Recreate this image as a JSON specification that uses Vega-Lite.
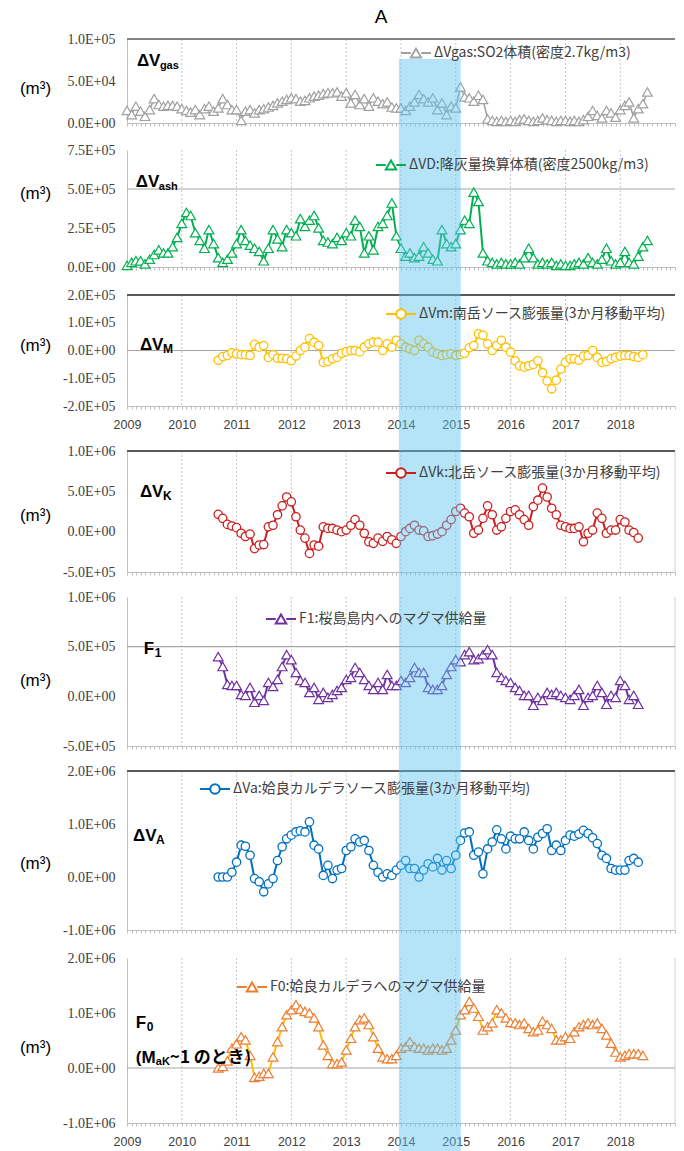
{
"$schema": "https://vega.github.io/schema/vega-lite/v6.json",
"width": 548, "height": 1151,
"autosize": {"type": "none"},
"padding": {"left": 127, "top": 0, "right": 9, "bottom": 0},
"background": "white",
"title": {"text": "A", "anchor": "start", "frame": "group", "align": "center", "baseline": "middle", "dx": 254, "dy": 36, "offset": 0, "font": "Liberation Sans", "fontSize": 19, "fontWeight": "normal", "color": "#000"},
"config": {"view": {"stroke": null}, "axis": {"grid": false}},
"datasets": {
"years": [{"yr":"2010-01-01"},{"yr":"2011-01-01"},{"yr":"2012-01-01"},{"yr":"2013-01-01"},{"yr":"2014-01-01"},{"yr":"2015-01-01"},{"yr":"2016-01-01"},{"yr":"2017-01-01"},{"yr":"2018-01-01"}],
"edge": [{"e":"2019-01-01"}],
"main": [
{"d":"2009-01-01","gas":15000,"ash":10000},
{"d":"2009-02-01","gas":10000,"ash":30000},
{"d":"2009-03-01","gas":20000,"ash":40000},
{"d":"2009-04-01","gas":14000,"ash":40000},
{"d":"2009-05-01","gas":8000,"ash":20000},
{"d":"2009-06-01","gas":16000,"ash":50000},
{"d":"2009-07-01","gas":29000,"ash":80000},
{"d":"2009-08-01","gas":22000,"ash":110000},
{"d":"2009-09-01","gas":20000,"ash":90000},
{"d":"2009-10-01","gas":21000,"ash":90000},
{"d":"2009-11-01","gas":21000,"ash":130000},
{"d":"2009-12-01","gas":20000,"ash":190000},
{"d":"2010-01-01","gas":17000,"ash":280000},
{"d":"2010-02-01","gas":15000,"ash":350000},
{"d":"2010-03-01","gas":13000,"ash":330000},
{"d":"2010-04-01","gas":16000,"ash":220000},
{"d":"2010-05-01","gas":10000,"ash":170000},
{"d":"2010-06-01","gas":17000,"ash":120000},
{"d":"2010-07-01","gas":20000,"ash":240000},
{"d":"2010-08-01","gas":14000,"ash":150000},
{"d":"2010-09-01","gas":18000,"ash":60000,"m":-35000,"k":215000,"f1":400000,"a":0,"f0":0},
{"d":"2010-10-01","gas":29000,"ash":30000,"m":-22000,"k":165000,"f1":300000,"a":0,"f0":30000},
{"d":"2010-11-01","gas":22000,"ash":50000,"m":-18000,"k":90000,"f1":120000,"a":0,"f0":130000},
{"d":"2010-12-01","gas":16000,"ash":90000,"m":-8000,"k":70000,"f1":110000,"a":90000,"f0":360000},
{"d":"2011-01-01","gas":16000,"ash":150000,"m":-12000,"k":50000,"f1":110000,"a":280000,"f0":440000},
{"d":"2011-02-01","gas":3000,"ash":240000,"m":-15000,"k":-20000,"f1":20000,"a":600000,"f0":570000},
{"d":"2011-03-01","gas":14000,"ash":170000,"m":-15000,"k":-60000,"f1":10000,"a":580000,"f0":510000},
{"d":"2011-04-01","gas":16000,"ash":140000,"m":-18000,"k":-30000,"f1":90000,"a":410000,"f0":230000},
{"d":"2011-05-01","gas":12000,"ash":120000,"m":22000,"k":-210000,"f1":-60000,"a":-30000,"f0":-170000},
{"d":"2011-06-01","gas":16000,"ash":100000,"m":12000,"k":-165000,"f1":10000,"a":-90000,"f0":-150000},
{"d":"2011-07-01","gas":17000,"ash":40000,"m":18000,"k":-160000,"f1":-40000,"a":-280000,"f0":-100000},
{"d":"2011-08-01","gas":19000,"ash":120000,"m":-25000,"k":60000,"f1":140000,"a":-130000,"f0":-100000},
{"d":"2011-09-01","gas":21000,"ash":240000,"m":-15000,"k":80000,"f1":100000,"a":-30000,"f0":200000},
{"d":"2011-10-01","gas":24000,"ash":180000,"m":-28000,"k":210000,"f1":170000,"a":310000,"f0":480000},
{"d":"2011-11-01","gas":26000,"ash":130000,"m":-28000,"k":320000,"f1":300000,"a":570000,"f0":750000},
{"d":"2011-12-01","gas":28000,"ash":240000,"m":-30000,"k":430000,"f1":420000,"a":720000,"f0":970000},
{"d":"2012-01-01","gas":30000,"ash":220000,"m":-37000,"k":370000,"f1":370000,"a":790000,"f0":1060000},
{"d":"2012-02-01","gas":29000,"ash":200000,"m":-20000,"k":185000,"f1":240000,"a":850000,"f0":1150000},
{"d":"2012-03-01","gas":26000,"ash":310000,"m":0,"k":20000,"f1":160000,"a":870000,"f0":1070000},
{"d":"2012-04-01","gas":27000,"ash":260000,"m":12000,"k":-80000,"f1":140000,"a":850000,"f0":1030000},
{"d":"2012-05-01","gas":30000,"ash":300000,"m":43000,"k":-270000,"f1":40000,"a":1040000,"f0":1000000},
{"d":"2012-06-01","gas":32000,"ash":330000,"m":30000,"k":-165000,"f1":90000,"a":600000,"f0":910000},
{"d":"2012-07-01","gas":33000,"ash":250000,"m":18000,"k":-180000,"f1":-30000,"a":530000,"f0":750000},
{"d":"2012-08-01","gas":35000,"ash":170000,"m":-43000,"k":60000,"f1":40000,"a":30000,"f0":420000},
{"d":"2012-09-01","gas":36000,"ash":160000,"m":-40000,"k":40000,"f1":-10000,"a":220000,"f0":230000},
{"d":"2012-10-01","gas":36000,"ash":150000,"m":-30000,"k":40000,"f1":20000,"a":-30000,"f0":80000},
{"d":"2012-11-01","gas":37000,"ash":190000,"m":-25000,"k":20000,"f1":60000,"a":130000,"f0":80000},
{"d":"2012-12-01","gas":32000,"ash":170000,"m":-10000,"k":0,"f1":90000,"a":160000,"f0":110000},
{"d":"2013-01-01","gas":36000,"ash":220000,"m":-5000,"k":20000,"f1":170000,"a":500000,"f0":330000},
{"d":"2013-02-01","gas":24000,"ash":200000,"m":0,"k":80000,"f1":190000,"a":570000,"f0":540000},
{"d":"2013-03-01","gas":34000,"ash":300000,"m":0,"k":150000,"f1":290000,"a":720000,"f0":750000},
{"d":"2013-04-01","gas":22000,"ash":260000,"m":-5000,"k":80000,"f1":240000,"a":660000,"f0":880000},
{"d":"2013-05-01","gas":29000,"ash":90000,"m":12000,"k":-20000,"f1":170000,"a":690000,"f0":910000},
{"d":"2013-06-01","gas":20000,"ash":200000,"m":24000,"k":-125000,"f1":110000,"a":500000,"f0":790000},
{"d":"2013-07-01","gas":30000,"ash":110000,"m":30000,"k":-145000,"f1":70000,"a":220000,"f0":570000},
{"d":"2013-08-01","gas":26000,"ash":260000,"m":30000,"k":-80000,"f1":140000,"a":90000,"f0":360000},
{"d":"2013-09-01","gas":23000,"ash":280000,"m":0,"k":-120000,"f1":70000,"a":0,"f0":200000},
{"d":"2013-10-01","gas":25000,"ash":330000,"m":24000,"k":-60000,"f1":220000,"a":60000,"f0":170000},
{"d":"2013-11-01","gas":19000,"ash":410000,"m":12000,"k":-100000,"f1":110000,"a":30000,"f0":170000},
{"d":"2013-12-01","gas":18000,"ash":200000,"m":37000,"k":-145000,"f1":110000,"a":130000,"f0":230000},
{"d":"2014-01-01","gas":18000,"ash":120000,"m":24000,"k":-60000,"f1":160000,"a":220000,"f0":360000},
{"d":"2014-02-01","gas":15000,"ash":70000,"m":12000,"k":0,"f1":140000,"a":310000,"f0":390000},
{"d":"2014-03-01","gas":20000,"ash":90000,"m":6000,"k":40000,"f1":190000,"a":160000,"f0":480000},
{"d":"2014-04-01","gas":25000,"ash":60000,"m":0,"k":80000,"f1":290000,"a":160000,"f0":390000},
{"d":"2014-05-01","gas":34000,"ash":70000,"m":37000,"k":20000,"f1":240000,"a":0,"f0":360000},
{"d":"2014-06-01","gas":29000,"ash":130000,"m":24000,"k":10000,"f1":240000,"a":130000,"f0":360000},
{"d":"2014-07-01","gas":25000,"ash":90000,"m":12000,"k":-60000,"f1":90000,"a":250000,"f0":330000},
{"d":"2014-08-01","gas":30000,"ash":50000,"m":-6000,"k":-50000,"f1":70000,"a":190000,"f0":360000},
{"d":"2014-09-01","gas":16000,"ash":40000,"m":-12000,"k":-30000,"f1":70000,"a":350000,"f0":360000},
{"d":"2014-10-01","gas":24000,"ash":240000,"m":-18000,"k":0,"f1":110000,"a":130000,"f0":330000},
{"d":"2014-11-01","gas":10000,"ash":150000,"m":-15000,"k":80000,"f1":220000,"a":310000,"f0":360000},
{"d":"2014-12-01","gas":20000,"ash":130000,"m":-12000,"k":150000,"f1":300000,"a":160000,"f0":510000},
{"d":"2015-01-01","gas":18000,"ash":150000,"m":-18000,"k":250000,"f1":370000,"a":410000,"f0":690000},
{"d":"2015-02-01","gas":43000,"ash":240000,"m":-15000,"k":290000,"f1":350000,"a":690000,"f0":970000},
{"d":"2015-03-01","gas":31000,"ash":300000,"m":-10000,"k":230000,"f1":420000,"a":830000,"f0":1060000},
{"d":"2015-04-01","gas":30000,"ash":280000,"m":10000,"k":185000,"f1":450000,"a":850000,"f0":1210000},
{"d":"2015-05-01","gas":26000,"ash":480000,"m":18000,"k":-20000,"f1":370000,"a":410000,"f0":1090000},
{"d":"2015-06-01","gas":33000,"ash":420000,"m":60000,"k":20000,"f1":380000,"a":470000,"f0":940000},
{"d":"2015-07-01","gas":28000,"ash":90000,"m":55000,"k":165000,"f1":420000,"a":60000,"f0":690000},
{"d":"2015-08-01","gas":5000,"ash":40000,"m":24000,"k":320000,"f1":470000,"a":530000,"f0":750000},
{"d":"2015-09-01","gas":3000,"ash":30000,"m":0,"k":210000,"f1":420000,"a":660000,"f0":820000},
{"d":"2015-10-01","gas":2000,"ash":20000,"m":18000,"k":20000,"f1":240000,"a":890000,"f0":1060000},
{"d":"2015-11-01","gas":3000,"ash":30000,"m":37000,"k":60000,"f1":190000,"a":720000,"f0":1000000},
{"d":"2015-12-01","gas":2000,"ash":20000,"m":12000,"k":165000,"f1":160000,"a":530000,"f0":910000},
{"d":"2016-01-01","gas":3000,"ash":20000,"m":-6000,"k":250000,"f1":140000,"a":770000,"f0":830000},
{"d":"2016-02-01","gas":2000,"ash":30000,"m":-37000,"k":270000,"f1":90000,"a":720000,"f0":820000},
{"d":"2016-03-01","gas":4000,"ash":20000,"m":-55000,"k":210000,"f1":60000,"a":720000,"f0":790000},
{"d":"2016-04-01","gas":5000,"ash":60000,"m":-60000,"k":150000,"f1":10000,"a":850000,"f0":820000},
{"d":"2016-05-01","gas":3000,"ash":120000,"m":-55000,"k":80000,"f1":10000,"a":690000,"f0":720000},
{"d":"2016-06-01","gas":2000,"ash":60000,"m":-50000,"k":310000,"f1":-90000,"a":530000,"f0":660000},
{"d":"2016-07-01","gas":3000,"ash":20000,"m":-37000,"k":390000,"f1":-10000,"a":750000,"f0":690000},
{"d":"2016-08-01","gas":6000,"ash":30000,"m":-80000,"k":540000,"f1":-40000,"a":820000,"f0":850000},
{"d":"2016-09-01","gas":4000,"ash":20000,"m":-110000,"k":430000,"f1":40000,"a":910000,"f0":790000},
{"d":"2016-10-01","gas":3000,"ash":30000,"m":-138000,"k":290000,"f1":20000,"a":500000,"f0":720000},
{"d":"2016-11-01","gas":2000,"ash":10000,"m":-107000,"k":210000,"f1":40000,"a":600000,"f0":510000},
{"d":"2016-12-01","gas":3000,"ash":20000,"m":-67000,"k":80000,"f1":10000,"a":500000,"f0":510000},
{"d":"2017-01-01","gas":3000,"ash":10000,"m":-43000,"k":60000,"f1":-10000,"a":690000,"f0":570000},
{"d":"2017-02-01","gas":2000,"ash":10000,"m":-30000,"k":40000,"f1":-30000,"a":790000,"f0":540000},
{"d":"2017-03-01","gas":3000,"ash":20000,"m":-30000,"k":40000,"f1":10000,"a":770000,"f0":660000},
{"d":"2017-04-01","gas":2000,"ash":30000,"m":-35000,"k":60000,"f1":70000,"a":810000,"f0":750000},
{"d":"2017-05-01","gas":4000,"ash":20000,"m":-20000,"k":-125000,"f1":-90000,"a":880000,"f0":790000},
{"d":"2017-06-01","gas":8000,"ash":60000,"m":-18000,"k":-20000,"f1":-10000,"a":820000,"f0":820000},
{"d":"2017-07-01","gas":15000,"ash":30000,"m":0,"k":20000,"f1":10000,"a":740000,"f0":790000},
{"d":"2017-08-01","gas":9000,"ash":20000,"m":-25000,"k":230000,"f1":110000,"a":630000,"f0":820000},
{"d":"2017-09-01","gas":6000,"ash":50000,"m":-43000,"k":165000,"f1":40000,"a":410000,"f0":720000},
{"d":"2017-10-01","gas":15000,"ash":120000,"m":-40000,"k":-20000,"f1":-80000,"a":350000,"f0":600000},
{"d":"2017-11-01","gas":12000,"ash":40000,"m":-30000,"k":20000,"f1":10000,"a":160000,"f0":450000},
{"d":"2017-12-01","gas":7000,"ash":20000,"m":-25000,"k":20000,"f1":-10000,"a":130000,"f0":290000},
{"d":"2018-01-01","gas":16000,"ash":30000,"m":-20000,"k":150000,"f1":160000,"a":130000,"f0":200000},
{"d":"2018-02-01","gas":21000,"ash":100000,"m":-18000,"k":120000,"f1":110000,"a":130000,"f0":230000},
{"d":"2018-03-01","gas":25000,"ash":30000,"m":-18000,"k":20000,"f1":-30000,"a":310000,"f0":260000},
{"d":"2018-04-01","gas":6000,"ash":20000,"m":-22000,"k":-10000,"f1":10000,"a":350000,"f0":260000},
{"d":"2018-05-01","gas":17000,"ash":70000,"m":-25000,"k":-80000,"f1":-80000,"a":280000,"f0":260000},
{"d":"2018-06-01","gas":23000,"ash":130000,"m":-15000,"f0":230000},
{"d":"2018-07-01","gas":37000,"ash":170000}
]
},
"layer": [
{"layer": [
 {"data": {"name": "years"}, "mark": {"type": "rule", "color": "#c8c8c8", "strokeDash": [2, 2], "strokeWidth": 1},
  "encoding": {"x": {"field": "yr", "type": "temporal", "scale": {"type": "utc", "domain": [{"year": 2009, "month": 1, "date": 1, "utc": true}, {"year": 2019, "month": 1, "date": 1, "utc": true}]}},
   "y": {"datum": 100000, "type": "quantitative", "scale": {"domain": [0, 100000], "range": [123, 39], "nice": false, "zero": false}}, "y2": {"datum": 0}}},
 {"data": {"values": [{}]}, "mark": {"type": "rule", "color": "#595959", "strokeWidth": 1.5},
  "encoding": {"y": {"datum": 100000, "type": "quantitative", "scale": {"domain": [0, 100000], "range": [123, 39], "nice": false, "zero": false}}}},
 {"data": {"name": "main"}, "mark": {"type": "line", "strokeWidth": 1.5},
  "encoding": {
   "x": {"field": "d", "type": "temporal", "scale": {"type": "utc", "domain": [{"year": 2009, "month": 1, "date": 1, "utc": true}, {"year": 2019, "month": 1, "date": 1, "utc": true}]},
    "axis": {"orient": "bottom", "offset": -1028, "tickCount": {"interval": "month", "step": 1}, "labels": false, "grid": false, "domainColor": "#bfbfbf", "tickColor": "#bfbfbf", "tickSize": 3, "title": null}},
   "y": {"field": "gas", "type": "quantitative", "scale": {"domain": [0, 100000], "range": [123, 39], "nice": false, "zero": false},
    "axis": {"orient": "left", "values": [0, 50000, 100000], "labelExpr": "datum.value == 0 ? '0.0E+00' : (datum.value < 0 ? '-' : '') + format(abs(datum.value) / pow(10, floor(log(abs(datum.value)) / LN10 + 1e-9)), '.1f') + 'E+' + (floor(log(abs(datum.value)) / LN10 + 1e-9) < 10 ? '0' : '') + floor(log(abs(datum.value)) / LN10 + 1e-9)", "labelFont": "Liberation Serif", "labelFontSize": 14, "labelColor": "#404040", "labelPadding": 12, "labelOverlap": false, "ticks": false, "grid": false, "domainColor": "#bfbfbf", "title": "(m³)", "titleAngle": 0, "titleX": -92, "titleY": 88, "titleAlign": "center", "titleBaseline": "middle", "titleFont": "Liberation Sans", "titleFontSize": 17, "titleFontWeight": "normal", "titleColor": "#000"}},
   "stroke": {"datum": "ΔVgas:SO2体積(密度2.7kg/m3)", "type": "nominal", "scale": {"range": ["#a0a0a0"]},
    "legend": {"orient": "none", "legendX": 273, "legendY": 37, "title": null, "padding": 0, "symbolType": "M-1,0H-0.35M0.35,0H1M-0.35,0.3L0,-0.3L0.35,0.3Z", "symbolSize": 900, "symbolStrokeWidth": 1.8, "symbolFillColor": "white", "labelFont": "Noto Sans CJK JP", "labelFontSize": 14, "labelColor": "#404040", "labelLimit": 400, "labelOffset": 2}}}},
 {"data": {"name": "main"}, "mark": {"type": "point", "shape": "triangle-up", "filled": true, "fill": "white", "strokeWidth": 1.2, "size": 95, "opacity": 1},
  "encoding": {
   "x": {"field": "d", "type": "temporal", "scale": {"type": "utc", "domain": [{"year": 2009, "month": 1, "date": 1, "utc": true}, {"year": 2019, "month": 1, "date": 1, "utc": true}]}},
   "y": {"field": "gas", "type": "quantitative", "scale": {"domain": [0, 100000], "range": [123, 39], "nice": false, "zero": false}},
   "stroke": {"datum": "ΔVgas:SO2体積(密度2.7kg/m3)", "type": "nominal", "scale": {"range": ["#a0a0a0"]}}}},
 {"data": {"values": [{}]}, "mark": {"type": "text", "font": "Liberation Sans", "fontWeight": "bold", "fontSize": 17, "align": "left", "baseline": "middle", "color": "#000"},
  "encoding": {"x": {"datum": {"year": 2009, "month": 3, "date": 8, "utc": true}, "type": "temporal", "scale": {"type": "utc", "domain": [{"year": 2009, "month": 1, "date": 1, "utc": true}, {"year": 2019, "month": 1, "date": 1, "utc": true}]}},
   "y": {"datum": 74000, "type": "quantitative", "scale": {"domain": [0, 100000], "range": [123, 39], "nice": false, "zero": false}}, "text": {"value": "ΔV"}}},
 {"data": {"values": [{}]}, "mark": {"type": "text", "font": "Liberation Sans", "fontWeight": "bold", "fontSize": 11, "align": "left", "baseline": "middle", "color": "#000", "dx": 23, "dy": 5},
  "encoding": {"x": {"datum": {"year": 2009, "month": 3, "date": 8, "utc": true}, "type": "temporal", "scale": {"type": "utc", "domain": [{"year": 2009, "month": 1, "date": 1, "utc": true}, {"year": 2019, "month": 1, "date": 1, "utc": true}]}},
   "y": {"datum": 74000, "type": "quantitative", "scale": {"domain": [0, 100000], "range": [123, 39], "nice": false, "zero": false}}, "text": {"value": "gas"}}}
]},
{"layer": [
 {"data": {"name": "years"}, "mark": {"type": "rule", "color": "#c8c8c8", "strokeDash": [2, 2], "strokeWidth": 1},
  "encoding": {"x": {"field": "yr", "type": "temporal", "scale": {"type": "utc", "domain": [{"year": 2009, "month": 1, "date": 1, "utc": true}, {"year": 2019, "month": 1, "date": 1, "utc": true}]}},
   "y": {"datum": 750000, "type": "quantitative", "scale": {"domain": [0, 750000], "range": [267, 150], "nice": false, "zero": false}}, "y2": {"datum": 0}}},
 {"data": {"values": [{}]}, "mark": {"type": "rule", "color": "#a6a6a6", "strokeWidth": 1.2},
  "encoding": {"y": {"datum": 500000, "type": "quantitative", "scale": {"domain": [0, 750000], "range": [267, 150], "nice": false, "zero": false}}}},
 {"data": {"name": "main"}, "mark": {"type": "line", "strokeWidth": 2},
  "encoding": {
   "x": {"field": "d", "type": "temporal", "scale": {"type": "utc", "domain": [{"year": 2009, "month": 1, "date": 1, "utc": true}, {"year": 2019, "month": 1, "date": 1, "utc": true}]},
    "axis": {"orient": "bottom", "offset": -884, "tickCount": {"interval": "month", "step": 1}, "labels": false, "grid": false, "domainColor": "#bfbfbf", "tickColor": "#bfbfbf", "tickSize": 3, "title": null}},
   "y": {"field": "ash", "type": "quantitative", "scale": {"domain": [0, 750000], "range": [267, 150], "nice": false, "zero": false},
    "axis": {"orient": "left", "values": [0, 250000, 500000, 750000], "labelExpr": "datum.value == 0 ? '0.0E+00' : (datum.value < 0 ? '-' : '') + format(abs(datum.value) / pow(10, floor(log(abs(datum.value)) / LN10 + 1e-9)), '.1f') + 'E+' + (floor(log(abs(datum.value)) / LN10 + 1e-9) < 10 ? '0' : '') + floor(log(abs(datum.value)) / LN10 + 1e-9)", "labelFont": "Liberation Serif", "labelFontSize": 14, "labelColor": "#404040", "labelPadding": 12, "labelOverlap": false, "ticks": false, "grid": false, "domainColor": "#bfbfbf", "title": "(m³)", "titleAngle": 0, "titleX": -92, "titleY": 193, "titleAlign": "center", "titleBaseline": "middle", "titleFont": "Liberation Sans", "titleFontSize": 17, "titleFontWeight": "normal", "titleColor": "#000"}},
   "stroke": {"datum": "ΔVD:降灰量換算体積(密度2500kg/m3)", "type": "nominal", "scale": {"range": ["#00b050"]},
    "legend": {"orient": "none", "legendX": 248, "legendY": 149, "title": null, "padding": 0, "symbolType": "M-1,0H-0.35M0.35,0H1M-0.35,0.3L0,-0.3L0.35,0.3Z", "symbolSize": 900, "symbolStrokeWidth": 2, "symbolFillColor": "white", "labelFont": "Noto Sans CJK JP", "labelFontSize": 14, "labelColor": "#404040", "labelLimit": 400, "labelOffset": 2}}}},
 {"data": {"name": "main"}, "mark": {"type": "point", "shape": "triangle-up", "filled": true, "fill": "white", "strokeWidth": 1.2, "size": 95, "opacity": 1},
  "encoding": {
   "x": {"field": "d", "type": "temporal", "scale": {"type": "utc", "domain": [{"year": 2009, "month": 1, "date": 1, "utc": true}, {"year": 2019, "month": 1, "date": 1, "utc": true}]}},
   "y": {"field": "ash", "type": "quantitative", "scale": {"domain": [0, 750000], "range": [267, 150], "nice": false, "zero": false}},
   "stroke": {"datum": "ΔVD:降灰量換算体積(密度2500kg/m3)", "type": "nominal", "scale": {"range": ["#00b050"]}}}},
 {"data": {"values": [{}]}, "mark": {"type": "text", "font": "Liberation Sans", "fontWeight": "bold", "fontSize": 17, "align": "left", "baseline": "middle", "color": "#000"},
  "encoding": {"x": {"datum": {"year": 2009, "month": 3, "date": 1, "utc": true}, "type": "temporal", "scale": {"type": "utc", "domain": [{"year": 2009, "month": 1, "date": 1, "utc": true}, {"year": 2019, "month": 1, "date": 1, "utc": true}]}},
   "y": {"datum": 545000, "type": "quantitative", "scale": {"domain": [0, 750000], "range": [267, 150], "nice": false, "zero": false}}, "text": {"value": "ΔV"}}},
 {"data": {"values": [{}]}, "mark": {"type": "text", "font": "Liberation Sans", "fontWeight": "bold", "fontSize": 11, "align": "left", "baseline": "middle", "color": "#000", "dx": 23, "dy": 5},
  "encoding": {"x": {"datum": {"year": 2009, "month": 3, "date": 1, "utc": true}, "type": "temporal", "scale": {"type": "utc", "domain": [{"year": 2009, "month": 1, "date": 1, "utc": true}, {"year": 2019, "month": 1, "date": 1, "utc": true}]}},
   "y": {"datum": 545000, "type": "quantitative", "scale": {"domain": [0, 750000], "range": [267, 150], "nice": false, "zero": false}}, "text": {"value": "ash"}}}
]},
{"layer": [
 {"data": {"name": "years"}, "mark": {"type": "rule", "color": "#c8c8c8", "strokeDash": [2, 2], "strokeWidth": 1},
  "encoding": {"x": {"field": "yr", "type": "temporal", "scale": {"type": "utc", "domain": [{"year": 2009, "month": 1, "date": 1, "utc": true}, {"year": 2019, "month": 1, "date": 1, "utc": true}]}},
   "y": {"datum": 200000, "type": "quantitative", "scale": {"domain": [-200000, 200000], "range": [406, 295], "nice": false, "zero": false}}, "y2": {"datum": -200000}}},
 {"data": {"values": [{}]}, "mark": {"type": "rule", "color": "#595959", "strokeWidth": 1.8},
  "encoding": {"y": {"datum": 200000, "type": "quantitative", "scale": {"domain": [-200000, 200000], "range": [406, 295], "nice": false, "zero": false}}}},
 {"data": {"values": [{}]}, "mark": {"type": "rule", "color": "#a6a6a6", "strokeWidth": 1.2},
  "encoding": {"y": {"datum": 0, "type": "quantitative", "scale": {"domain": [-200000, 200000], "range": [406, 295], "nice": false, "zero": false}}}},
 {"data": {"name": "main"}, "transform": [{"filter": "isValid(datum.m)"}], "mark": {"type": "line", "strokeWidth": 2},
  "encoding": {
   "x": {"field": "d", "type": "temporal", "scale": {"type": "utc", "domain": [{"year": 2009, "month": 1, "date": 1, "utc": true}, {"year": 2019, "month": 1, "date": 1, "utc": true}]},
    "axis": {"orient": "bottom", "offset": -745, "tickCount": {"interval": "month", "step": 1}, "labels": true, "labelExpr": "utcmonth(datum.value) === 0 && utcyear(datum.value) < 2019 ? utcFormat(datum.value, '%Y') : ''", "labelOverlap": false, "labelFlush": false, "labelBound": false, "labelFont": "Liberation Sans", "labelFontSize": 12.5, "labelColor": "#404040", "labelPadding": 9, "grid": false, "domainColor": "#bfbfbf", "tickColor": "#bfbfbf", "tickSize": 3, "title": null}},
   "y": {"field": "m", "type": "quantitative", "scale": {"domain": [-200000, 200000], "range": [406, 295], "nice": false, "zero": false},
    "axis": {"orient": "left", "values": [-200000, -100000, 0, 100000, 200000], "labelExpr": "datum.value == 0 ? '0.0E+00' : (datum.value < 0 ? '-' : '') + format(abs(datum.value) / pow(10, floor(log(abs(datum.value)) / LN10 + 1e-9)), '.1f') + 'E+' + (floor(log(abs(datum.value)) / LN10 + 1e-9) < 10 ? '0' : '') + floor(log(abs(datum.value)) / LN10 + 1e-9)", "labelFont": "Liberation Serif", "labelFontSize": 14, "labelColor": "#404040", "labelPadding": 12, "labelOverlap": false, "ticks": false, "grid": false, "domainColor": "#bfbfbf", "title": "(m³)", "titleAngle": 0, "titleX": -92, "titleY": 345, "titleAlign": "center", "titleBaseline": "middle", "titleFont": "Liberation Sans", "titleFontSize": 17, "titleFontWeight": "normal", "titleColor": "#000"}},
   "stroke": {"datum": "ΔVm:南岳ソース膨張量(3か月移動平均)", "type": "nominal", "scale": {"range": ["#ffc000"]},
    "legend": {"orient": "none", "legendX": 258, "legendY": 298, "title": null, "padding": 0, "symbolType": "M-1,0H-0.32M0.32,0H1M0.32,0A0.32,0.32,0,1,1,-0.32,0A0.32,0.32,0,1,1,0.32,0Z", "symbolSize": 900, "symbolStrokeWidth": 2, "symbolFillColor": "white", "labelFont": "Noto Sans CJK JP", "labelFontSize": 14, "labelColor": "#404040", "labelLimit": 400, "labelOffset": 2}}}},
 {"data": {"name": "main"}, "transform": [{"filter": "isValid(datum.m)"}], "mark": {"type": "point", "shape": "circle", "filled": true, "fill": "white", "strokeWidth": 1.3, "size": 70, "opacity": 1},
  "encoding": {
   "x": {"field": "d", "type": "temporal", "scale": {"type": "utc", "domain": [{"year": 2009, "month": 1, "date": 1, "utc": true}, {"year": 2019, "month": 1, "date": 1, "utc": true}]}},
   "y": {"field": "m", "type": "quantitative", "scale": {"domain": [-200000, 200000], "range": [406, 295], "nice": false, "zero": false}},
   "stroke": {"datum": "ΔVm:南岳ソース膨張量(3か月移動平均)", "type": "nominal", "scale": {"range": ["#ffc000"]}}}},
 {"data": {"values": [{}]}, "mark": {"type": "text", "font": "Liberation Sans", "fontWeight": "bold", "fontSize": 17, "align": "left", "baseline": "middle", "color": "#000"},
  "encoding": {"x": {"datum": {"year": 2009, "month": 3, "date": 28, "utc": true}, "type": "temporal", "scale": {"type": "utc", "domain": [{"year": 2009, "month": 1, "date": 1, "utc": true}, {"year": 2019, "month": 1, "date": 1, "utc": true}]}},
   "y": {"datum": 20000, "type": "quantitative", "scale": {"domain": [-200000, 200000], "range": [406, 295], "nice": false, "zero": false}}, "text": {"value": "ΔV"}}},
 {"data": {"values": [{}]}, "mark": {"type": "text", "font": "Liberation Sans", "fontWeight": "bold", "fontSize": 12, "align": "left", "baseline": "middle", "color": "#000", "dx": 23, "dy": 4},
  "encoding": {"x": {"datum": {"year": 2009, "month": 3, "date": 28, "utc": true}, "type": "temporal", "scale": {"type": "utc", "domain": [{"year": 2009, "month": 1, "date": 1, "utc": true}, {"year": 2019, "month": 1, "date": 1, "utc": true}]}},
   "y": {"datum": 20000, "type": "quantitative", "scale": {"domain": [-200000, 200000], "range": [406, 295], "nice": false, "zero": false}}, "text": {"value": "M"}}}
]},
{"layer": [
 {"data": {"name": "years"}, "mark": {"type": "rule", "color": "#c8c8c8", "strokeDash": [2, 2], "strokeWidth": 1},
  "encoding": {"x": {"field": "yr", "type": "temporal", "scale": {"type": "utc", "domain": [{"year": 2009, "month": 1, "date": 1, "utc": true}, {"year": 2019, "month": 1, "date": 1, "utc": true}]}},
   "y": {"datum": 1000000, "type": "quantitative", "scale": {"domain": [-500000, 1000000], "range": [572, 451], "nice": false, "zero": false}}, "y2": {"datum": -500000}}},
 {"data": {"name": "edge"}, "mark": {"type": "rule", "color": "#d0d0d0", "strokeWidth": 1},
  "encoding": {"x": {"field": "e", "type": "temporal", "scale": {"type": "utc", "domain": [{"year": 2009, "month": 1, "date": 1, "utc": true}, {"year": 2019, "month": 1, "date": 1, "utc": true}]}},
   "y": {"datum": 1000000, "type": "quantitative", "scale": {"domain": [-500000, 1000000], "range": [572, 451], "nice": false, "zero": false}}, "y2": {"datum": -500000}}},
 {"data": {"values": [{}]}, "mark": {"type": "rule", "color": "#595959", "strokeWidth": 1.8},
  "encoding": {"y": {"datum": 1000000, "type": "quantitative", "scale": {"domain": [-500000, 1000000], "range": [572, 451], "nice": false, "zero": false}}}},
 {"data": {"name": "main"}, "transform": [{"filter": "isValid(datum.k)"}], "mark": {"type": "line", "strokeWidth": 2},
  "encoding": {
   "x": {"field": "d", "type": "temporal", "scale": {"type": "utc", "domain": [{"year": 2009, "month": 1, "date": 1, "utc": true}, {"year": 2019, "month": 1, "date": 1, "utc": true}]},
    "axis": {"orient": "bottom", "offset": -579, "tickCount": {"interval": "month", "step": 1}, "labels": false, "grid": false, "domainColor": "#bfbfbf", "tickColor": "#bfbfbf", "tickSize": 3, "title": null}},
   "y": {"field": "k", "type": "quantitative", "scale": {"domain": [-500000, 1000000], "range": [572, 451], "nice": false, "zero": false},
    "axis": {"orient": "left", "values": [-500000, 0, 500000, 1000000], "labelExpr": "datum.value == 0 ? '0.0E+00' : (datum.value < 0 ? '-' : '') + format(abs(datum.value) / pow(10, floor(log(abs(datum.value)) / LN10 + 1e-9)), '.1f') + 'E+' + (floor(log(abs(datum.value)) / LN10 + 1e-9) < 10 ? '0' : '') + floor(log(abs(datum.value)) / LN10 + 1e-9)", "labelFont": "Liberation Serif", "labelFontSize": 14, "labelColor": "#404040", "labelPadding": 12, "labelOverlap": false, "ticks": false, "grid": false, "domainColor": "#bfbfbf", "title": "(m³)", "titleAngle": 0, "titleX": -92, "titleY": 515, "titleAlign": "center", "titleBaseline": "middle", "titleFont": "Liberation Sans", "titleFontSize": 17, "titleFontWeight": "normal", "titleColor": "#000"}},
   "stroke": {"datum": "ΔVk:北岳ソース膨張量(3か月移動平均)", "type": "nominal", "scale": {"range": ["#cc1f1f"]},
    "legend": {"orient": "none", "legendX": 258, "legendY": 457, "title": null, "padding": 0, "symbolType": "M-1,0H-0.32M0.32,0H1M0.32,0A0.32,0.32,0,1,1,-0.32,0A0.32,0.32,0,1,1,0.32,0Z", "symbolSize": 900, "symbolStrokeWidth": 2, "symbolFillColor": "white", "labelFont": "Noto Sans CJK JP", "labelFontSize": 14, "labelColor": "#404040", "labelLimit": 400, "labelOffset": 2}}}},
 {"data": {"name": "main"}, "transform": [{"filter": "isValid(datum.k)"}], "mark": {"type": "point", "shape": "circle", "filled": true, "fill": "white", "strokeWidth": 1.3, "size": 70, "opacity": 1},
  "encoding": {
   "x": {"field": "d", "type": "temporal", "scale": {"type": "utc", "domain": [{"year": 2009, "month": 1, "date": 1, "utc": true}, {"year": 2019, "month": 1, "date": 1, "utc": true}]}},
   "y": {"field": "k", "type": "quantitative", "scale": {"domain": [-500000, 1000000], "range": [572, 451], "nice": false, "zero": false}},
   "stroke": {"datum": "ΔVk:北岳ソース膨張量(3か月移動平均)", "type": "nominal", "scale": {"range": ["#cc1f1f"]}}}},
 {"data": {"values": [{}]}, "mark": {"type": "text", "font": "Liberation Sans", "fontWeight": "bold", "fontSize": 17, "align": "left", "baseline": "middle", "color": "#000"},
  "encoding": {"x": {"datum": {"year": 2009, "month": 3, "date": 28, "utc": true}, "type": "temporal", "scale": {"type": "utc", "domain": [{"year": 2009, "month": 1, "date": 1, "utc": true}, {"year": 2019, "month": 1, "date": 1, "utc": true}]}},
   "y": {"datum": 490000, "type": "quantitative", "scale": {"domain": [-500000, 1000000], "range": [572, 451], "nice": false, "zero": false}}, "text": {"value": "ΔV"}}},
 {"data": {"values": [{}]}, "mark": {"type": "text", "font": "Liberation Sans", "fontWeight": "bold", "fontSize": 12, "align": "left", "baseline": "middle", "color": "#000", "dx": 23, "dy": 4},
  "encoding": {"x": {"datum": {"year": 2009, "month": 3, "date": 28, "utc": true}, "type": "temporal", "scale": {"type": "utc", "domain": [{"year": 2009, "month": 1, "date": 1, "utc": true}, {"year": 2019, "month": 1, "date": 1, "utc": true}]}},
   "y": {"datum": 490000, "type": "quantitative", "scale": {"domain": [-500000, 1000000], "range": [572, 451], "nice": false, "zero": false}}, "text": {"value": "K"}}}
]},
{"layer": [
 {"data": {"name": "years"}, "mark": {"type": "rule", "color": "#c8c8c8", "strokeDash": [2, 2], "strokeWidth": 1},
  "encoding": {"x": {"field": "yr", "type": "temporal", "scale": {"type": "utc", "domain": [{"year": 2009, "month": 1, "date": 1, "utc": true}, {"year": 2019, "month": 1, "date": 1, "utc": true}]}},
   "y": {"datum": 1000000, "type": "quantitative", "scale": {"domain": [-500000, 1000000], "range": [746, 597], "nice": false, "zero": false}}, "y2": {"datum": -500000}}},
 {"data": {"name": "edge"}, "mark": {"type": "rule", "color": "#d0d0d0", "strokeWidth": 1},
  "encoding": {"x": {"field": "e", "type": "temporal", "scale": {"type": "utc", "domain": [{"year": 2009, "month": 1, "date": 1, "utc": true}, {"year": 2019, "month": 1, "date": 1, "utc": true}]}},
   "y": {"datum": 1000000, "type": "quantitative", "scale": {"domain": [-500000, 1000000], "range": [746, 597], "nice": false, "zero": false}}, "y2": {"datum": -500000}}},
 {"data": {"values": [{}]}, "mark": {"type": "rule", "color": "#a6a6a6", "strokeWidth": 1.2},
  "encoding": {"y": {"datum": 500000, "type": "quantitative", "scale": {"domain": [-500000, 1000000], "range": [746, 597], "nice": false, "zero": false}}}},
 {"data": {"name": "main"}, "transform": [{"filter": "isValid(datum.f1)"}], "mark": {"type": "line", "strokeWidth": 2},
  "encoding": {
   "x": {"field": "d", "type": "temporal", "scale": {"type": "utc", "domain": [{"year": 2009, "month": 1, "date": 1, "utc": true}, {"year": 2019, "month": 1, "date": 1, "utc": true}]},
    "axis": {"orient": "bottom", "offset": -405, "tickCount": {"interval": "month", "step": 1}, "labels": false, "grid": false, "domainColor": "#bfbfbf", "tickColor": "#bfbfbf", "tickSize": 3, "title": null}},
   "y": {"field": "f1", "type": "quantitative", "scale": {"domain": [-500000, 1000000], "range": [746, 597], "nice": false, "zero": false},
    "axis": {"orient": "left", "values": [-500000, 0, 500000, 1000000], "labelExpr": "datum.value == 0 ? '0.0E+00' : (datum.value < 0 ? '-' : '') + format(abs(datum.value) / pow(10, floor(log(abs(datum.value)) / LN10 + 1e-9)), '.1f') + 'E+' + (floor(log(abs(datum.value)) / LN10 + 1e-9) < 10 ? '0' : '') + floor(log(abs(datum.value)) / LN10 + 1e-9)", "labelFont": "Liberation Serif", "labelFontSize": 14, "labelColor": "#404040", "labelPadding": 12, "labelOverlap": false, "ticks": false, "grid": false, "domainColor": "#bfbfbf", "title": "(m³)", "titleAngle": 0, "titleX": -92, "titleY": 680, "titleAlign": "center", "titleBaseline": "middle", "titleFont": "Liberation Sans", "titleFontSize": 17, "titleFontWeight": "normal", "titleColor": "#000"}},
   "stroke": {"datum": "F1:桜島島内へのマグマ供給量", "type": "nominal", "scale": {"range": ["#7030a0"]},
    "legend": {"orient": "none", "legendX": 138, "legendY": 603, "title": null, "padding": 0, "symbolType": "M-1,0H-0.35M0.35,0H1M-0.35,0.3L0,-0.3L0.35,0.3Z", "symbolSize": 900, "symbolStrokeWidth": 2, "symbolFillColor": "white", "labelFont": "Noto Sans CJK JP", "labelFontSize": 14, "labelColor": "#404040", "labelLimit": 400, "labelOffset": 2}}}},
 {"data": {"name": "main"}, "transform": [{"filter": "isValid(datum.f1)"}], "mark": {"type": "point", "shape": "triangle-up", "filled": true, "fill": "white", "strokeWidth": 1.2, "size": 95, "opacity": 1},
  "encoding": {
   "x": {"field": "d", "type": "temporal", "scale": {"type": "utc", "domain": [{"year": 2009, "month": 1, "date": 1, "utc": true}, {"year": 2019, "month": 1, "date": 1, "utc": true}]}},
   "y": {"field": "f1", "type": "quantitative", "scale": {"domain": [-500000, 1000000], "range": [746, 597], "nice": false, "zero": false}},
   "stroke": {"datum": "F1:桜島島内へのマグマ供給量", "type": "nominal", "scale": {"range": ["#7030a0"]}}}},
 {"data": {"values": [{}]}, "mark": {"type": "text", "font": "Liberation Sans", "fontWeight": "bold", "fontSize": 17, "align": "left", "baseline": "middle", "color": "#000"},
  "encoding": {"x": {"datum": {"year": 2009, "month": 4, "date": 22, "utc": true}, "type": "temporal", "scale": {"type": "utc", "domain": [{"year": 2009, "month": 1, "date": 1, "utc": true}, {"year": 2019, "month": 1, "date": 1, "utc": true}]}},
   "y": {"datum": 480000, "type": "quantitative", "scale": {"domain": [-500000, 1000000], "range": [746, 597], "nice": false, "zero": false}}, "text": {"value": "F"}}},
 {"data": {"values": [{}]}, "mark": {"type": "text", "font": "Liberation Sans", "fontWeight": "bold", "fontSize": 12, "align": "left", "baseline": "middle", "color": "#000", "dx": 11, "dy": 4},
  "encoding": {"x": {"datum": {"year": 2009, "month": 4, "date": 22, "utc": true}, "type": "temporal", "scale": {"type": "utc", "domain": [{"year": 2009, "month": 1, "date": 1, "utc": true}, {"year": 2019, "month": 1, "date": 1, "utc": true}]}},
   "y": {"datum": 480000, "type": "quantitative", "scale": {"domain": [-500000, 1000000], "range": [746, 597], "nice": false, "zero": false}}, "text": {"value": "1"}}}
]},
{"layer": [
 {"data": {"name": "years"}, "mark": {"type": "rule", "color": "#c8c8c8", "strokeDash": [2, 2], "strokeWidth": 1},
  "encoding": {"x": {"field": "yr", "type": "temporal", "scale": {"type": "utc", "domain": [{"year": 2009, "month": 1, "date": 1, "utc": true}, {"year": 2019, "month": 1, "date": 1, "utc": true}]}},
   "y": {"datum": 2000000, "type": "quantitative", "scale": {"domain": [-1000000, 2000000], "range": [930, 771], "nice": false, "zero": false}}, "y2": {"datum": -1000000}}},
 {"data": {"name": "edge"}, "mark": {"type": "rule", "color": "#d0d0d0", "strokeWidth": 1},
  "encoding": {"x": {"field": "e", "type": "temporal", "scale": {"type": "utc", "domain": [{"year": 2009, "month": 1, "date": 1, "utc": true}, {"year": 2019, "month": 1, "date": 1, "utc": true}]}},
   "y": {"datum": 2000000, "type": "quantitative", "scale": {"domain": [-1000000, 2000000], "range": [930, 771], "nice": false, "zero": false}}, "y2": {"datum": -1000000}}},
 {"data": {"values": [{}]}, "mark": {"type": "rule", "color": "#595959", "strokeWidth": 1.8},
  "encoding": {"y": {"datum": 2000000, "type": "quantitative", "scale": {"domain": [-1000000, 2000000], "range": [930, 771], "nice": false, "zero": false}}}},
 {"data": {"name": "main"}, "transform": [{"filter": "isValid(datum.a)"}], "mark": {"type": "line", "strokeWidth": 2},
  "encoding": {
   "x": {"field": "d", "type": "temporal", "scale": {"type": "utc", "domain": [{"year": 2009, "month": 1, "date": 1, "utc": true}, {"year": 2019, "month": 1, "date": 1, "utc": true}]},
    "axis": {"orient": "bottom", "offset": -221, "tickCount": {"interval": "month", "step": 1}, "labels": false, "grid": false, "domainColor": "#bfbfbf", "tickColor": "#bfbfbf", "tickSize": 3, "title": null}},
   "y": {"field": "a", "type": "quantitative", "scale": {"domain": [-1000000, 2000000], "range": [930, 771], "nice": false, "zero": false},
    "axis": {"orient": "left", "values": [-1000000, 0, 1000000, 2000000], "labelExpr": "datum.value == 0 ? '0.0E+00' : (datum.value < 0 ? '-' : '') + format(abs(datum.value) / pow(10, floor(log(abs(datum.value)) / LN10 + 1e-9)), '.1f') + 'E+' + (floor(log(abs(datum.value)) / LN10 + 1e-9) < 10 ? '0' : '') + floor(log(abs(datum.value)) / LN10 + 1e-9)", "labelFont": "Liberation Serif", "labelFontSize": 14, "labelColor": "#404040", "labelPadding": 12, "labelOverlap": false, "ticks": false, "grid": false, "domainColor": "#bfbfbf", "title": "(m³)", "titleAngle": 0, "titleX": -92, "titleY": 863, "titleAlign": "center", "titleBaseline": "middle", "titleFont": "Liberation Sans", "titleFontSize": 17, "titleFontWeight": "normal", "titleColor": "#000"}},
   "stroke": {"datum": "ΔVa:姶良カルデラソース膨張量(3か月移動平均)", "type": "nominal", "scale": {"range": ["#0070c0"]},
    "legend": {"orient": "none", "legendX": 72, "legendY": 773, "title": null, "padding": 0, "symbolType": "M-1,0H-0.32M0.32,0H1M0.32,0A0.32,0.32,0,1,1,-0.32,0A0.32,0.32,0,1,1,0.32,0Z", "symbolSize": 900, "symbolStrokeWidth": 2, "symbolFillColor": "white", "labelFont": "Noto Sans CJK JP", "labelFontSize": 14, "labelColor": "#404040", "labelLimit": 400, "labelOffset": 2}}}},
 {"data": {"name": "main"}, "transform": [{"filter": "isValid(datum.a)"}], "mark": {"type": "point", "shape": "circle", "filled": true, "fill": "white", "strokeWidth": 1.3, "size": 70, "opacity": 1},
  "encoding": {
   "x": {"field": "d", "type": "temporal", "scale": {"type": "utc", "domain": [{"year": 2009, "month": 1, "date": 1, "utc": true}, {"year": 2019, "month": 1, "date": 1, "utc": true}]}},
   "y": {"field": "a", "type": "quantitative", "scale": {"domain": [-1000000, 2000000], "range": [930, 771], "nice": false, "zero": false}},
   "stroke": {"datum": "ΔVa:姶良カルデラソース膨張量(3か月移動平均)", "type": "nominal", "scale": {"range": ["#0070c0"]}}}},
 {"data": {"values": [{}]}, "mark": {"type": "text", "font": "Liberation Sans", "fontWeight": "bold", "fontSize": 17, "align": "left", "baseline": "middle", "color": "#000"},
  "encoding": {"x": {"datum": {"year": 2009, "month": 2, "date": 10, "utc": true}, "type": "temporal", "scale": {"type": "utc", "domain": [{"year": 2009, "month": 1, "date": 1, "utc": true}, {"year": 2019, "month": 1, "date": 1, "utc": true}]}},
   "y": {"datum": 770000, "type": "quantitative", "scale": {"domain": [-1000000, 2000000], "range": [930, 771], "nice": false, "zero": false}}, "text": {"value": "ΔV"}}},
 {"data": {"values": [{}]}, "mark": {"type": "text", "font": "Liberation Sans", "fontWeight": "bold", "fontSize": 12, "align": "left", "baseline": "middle", "color": "#000", "dx": 23, "dy": 4},
  "encoding": {"x": {"datum": {"year": 2009, "month": 2, "date": 10, "utc": true}, "type": "temporal", "scale": {"type": "utc", "domain": [{"year": 2009, "month": 1, "date": 1, "utc": true}, {"year": 2019, "month": 1, "date": 1, "utc": true}]}},
   "y": {"datum": 770000, "type": "quantitative", "scale": {"domain": [-1000000, 2000000], "range": [930, 771], "nice": false, "zero": false}}, "text": {"value": "A"}}}
]},
{"layer": [
 {"data": {"name": "years"}, "mark": {"type": "rule", "color": "#c8c8c8", "strokeDash": [2, 2], "strokeWidth": 1},
  "encoding": {"x": {"field": "yr", "type": "temporal", "scale": {"type": "utc", "domain": [{"year": 2009, "month": 1, "date": 1, "utc": true}, {"year": 2019, "month": 1, "date": 1, "utc": true}]}},
   "y": {"datum": 2000000, "type": "quantitative", "scale": {"domain": [-1000000, 2000000], "range": [1123, 958], "nice": false, "zero": false}}, "y2": {"datum": -1000000}}},
 {"data": {"name": "edge"}, "mark": {"type": "rule", "color": "#d0d0d0", "strokeWidth": 1},
  "encoding": {"x": {"field": "e", "type": "temporal", "scale": {"type": "utc", "domain": [{"year": 2009, "month": 1, "date": 1, "utc": true}, {"year": 2019, "month": 1, "date": 1, "utc": true}]}},
   "y": {"datum": 2000000, "type": "quantitative", "scale": {"domain": [-1000000, 2000000], "range": [1123, 958], "nice": false, "zero": false}}, "y2": {"datum": -1000000}}},
 {"data": {"values": [{}]}, "mark": {"type": "rule", "color": "#a6a6a6", "strokeWidth": 1.2},
  "encoding": {"y": {"datum": 0, "type": "quantitative", "scale": {"domain": [-1000000, 2000000], "range": [1123, 958], "nice": false, "zero": false}}}},
 {"data": {"name": "main"}, "transform": [{"filter": "isValid(datum.f0)"}], "mark": {"type": "line", "strokeWidth": 2, "color": "#ffc000"},
  "encoding": {
   "x": {"field": "d", "type": "temporal", "scale": {"type": "utc", "domain": [{"year": 2009, "month": 1, "date": 1, "utc": true}, {"year": 2019, "month": 1, "date": 1, "utc": true}]},
    "axis": {"orient": "bottom", "offset": -28, "tickCount": {"interval": "month", "step": 1}, "labels": true, "labelExpr": "utcmonth(datum.value) === 0 && utcyear(datum.value) < 2019 ? utcFormat(datum.value, '%Y') : ''", "labelOverlap": false, "labelFlush": false, "labelBound": false, "labelFont": "Liberation Sans", "labelFontSize": 12.5, "labelColor": "#404040", "labelPadding": 9, "grid": false, "domainColor": "#bfbfbf", "tickColor": "#bfbfbf", "tickSize": 3, "title": null}},
   "y": {"field": "f0", "type": "quantitative", "scale": {"domain": [-1000000, 2000000], "range": [1123, 958], "nice": false, "zero": false},
    "axis": {"orient": "left", "values": [-1000000, 0, 1000000, 2000000], "labelExpr": "datum.value == 0 ? '0.0E+00' : (datum.value < 0 ? '-' : '') + format(abs(datum.value) / pow(10, floor(log(abs(datum.value)) / LN10 + 1e-9)), '.1f') + 'E+' + (floor(log(abs(datum.value)) / LN10 + 1e-9) < 10 ? '0' : '') + floor(log(abs(datum.value)) / LN10 + 1e-9)", "labelFont": "Liberation Serif", "labelFontSize": 14, "labelColor": "#404040", "labelPadding": 12, "labelOverlap": false, "ticks": false, "grid": false, "domainColor": "#bfbfbf", "title": "(m³)", "titleAngle": 0, "titleX": -92, "titleY": 1047, "titleAlign": "center", "titleBaseline": "middle", "titleFont": "Liberation Sans", "titleFontSize": 17, "titleFontWeight": "normal", "titleColor": "#000"}}}},
 {"data": {"name": "main"}, "transform": [{"filter": "isValid(datum.f0)"}], "mark": {"type": "point", "shape": "triangle-up", "filled": true, "fill": "white", "strokeWidth": 1.2, "size": 95, "opacity": 1},
  "encoding": {
   "x": {"field": "d", "type": "temporal", "scale": {"type": "utc", "domain": [{"year": 2009, "month": 1, "date": 1, "utc": true}, {"year": 2019, "month": 1, "date": 1, "utc": true}]}},
   "y": {"field": "f0", "type": "quantitative", "scale": {"domain": [-1000000, 2000000], "range": [1123, 958], "nice": false, "zero": false}},
   "stroke": {"datum": "F0:姶良カルデラへのマグマ供給量", "type": "nominal", "scale": {"range": ["#ed7d31"]},
    "legend": {"orient": "none", "legendX": 109, "legendY": 971, "title": null, "padding": 0, "symbolType": "M-1,0H-0.35M0.35,0H1M-0.35,0.3L0,-0.3L0.35,0.3Z", "symbolSize": 900, "symbolStrokeWidth": 2, "symbolFillColor": "white", "labelFont": "Noto Sans CJK JP", "labelFontSize": 14, "labelColor": "#404040", "labelLimit": 400, "labelOffset": 2}}}},
 {"data": {"values": [{}]}, "mark": {"type": "text", "font": "Liberation Sans", "fontWeight": "bold", "fontSize": 17, "align": "left", "baseline": "middle", "color": "#000"},
  "encoding": {"x": {"datum": {"year": 2009, "month": 3, "date": 1, "utc": true}, "type": "temporal", "scale": {"type": "utc", "domain": [{"year": 2009, "month": 1, "date": 1, "utc": true}, {"year": 2019, "month": 1, "date": 1, "utc": true}]}},
   "y": {"datum": 818000, "type": "quantitative", "scale": {"domain": [-1000000, 2000000], "range": [1123, 958], "nice": false, "zero": false}}, "text": {"value": "F"}}},
 {"data": {"values": [{}]}, "mark": {"type": "text", "font": "Liberation Sans", "fontWeight": "bold", "fontSize": 12, "align": "left", "baseline": "middle", "color": "#000", "dx": 11, "dy": 4},
  "encoding": {"x": {"datum": {"year": 2009, "month": 3, "date": 1, "utc": true}, "type": "temporal", "scale": {"type": "utc", "domain": [{"year": 2009, "month": 1, "date": 1, "utc": true}, {"year": 2019, "month": 1, "date": 1, "utc": true}]}},
   "y": {"datum": 818000, "type": "quantitative", "scale": {"domain": [-1000000, 2000000], "range": [1123, 958], "nice": false, "zero": false}}, "text": {"value": "0"}}},
 {"data": {"values": [{}]}, "mark": {"type": "text", "font": "Liberation Sans", "fontWeight": "bold", "fontSize": 17, "align": "left", "baseline": "middle", "color": "#000"},
  "encoding": {"x": {"datum": {"year": 2009, "month": 3, "date": 1, "utc": true}, "type": "temporal", "scale": {"type": "utc", "domain": [{"year": 2009, "month": 1, "date": 1, "utc": true}, {"year": 2019, "month": 1, "date": 1, "utc": true}]}},
   "y": {"datum": 182000, "type": "quantitative", "scale": {"domain": [-1000000, 2000000], "range": [1123, 958], "nice": false, "zero": false}}, "text": {"value": "(M"}}},
 {"data": {"values": [{}]}, "mark": {"type": "text", "font": "Liberation Sans", "fontWeight": "bold", "fontSize": 11, "align": "left", "baseline": "middle", "color": "#000", "dx": 20, "dy": 4},
  "encoding": {"x": {"datum": {"year": 2009, "month": 3, "date": 1, "utc": true}, "type": "temporal", "scale": {"type": "utc", "domain": [{"year": 2009, "month": 1, "date": 1, "utc": true}, {"year": 2019, "month": 1, "date": 1, "utc": true}]}},
   "y": {"datum": 182000, "type": "quantitative", "scale": {"domain": [-1000000, 2000000], "range": [1123, 958], "nice": false, "zero": false}}, "text": {"value": "aK"}}},
 {"data": {"values": [{}]}, "mark": {"type": "text", "font": "Noto Sans CJK JP", "fontWeight": "bold", "fontSize": 17, "align": "left", "baseline": "middle", "color": "#000", "dx": 34},
  "encoding": {"x": {"datum": {"year": 2009, "month": 3, "date": 1, "utc": true}, "type": "temporal", "scale": {"type": "utc", "domain": [{"year": 2009, "month": 1, "date": 1, "utc": true}, {"year": 2019, "month": 1, "date": 1, "utc": true}]}},
   "y": {"datum": 182000, "type": "quantitative", "scale": {"domain": [-1000000, 2000000], "range": [1123, 958], "nice": false, "zero": false}}, "text": {"value": "~1 のとき)"}}}
]},
{"data": {"values": [{}]}, "mark": {"type": "rect", "fill": "#5bc4f0", "opacity": 0.45},
 "encoding": {
  "x": {"datum": {"year": 2013, "month": 12, "date": 18, "utc": true}, "type": "temporal", "scale": {"type": "utc", "domain": [{"year": 2009, "month": 1, "date": 1, "utc": true}, {"year": 2019, "month": 1, "date": 1, "utc": true}]}, "axis": null},
  "x2": {"datum": {"year": 2015, "month": 2, "date": 3, "utc": true}},
  "y": {"datum": 1, "type": "quantitative", "scale": {"domain": [0, 1], "range": [1151, 59], "nice": false, "zero": false}, "axis": null},
  "y2": {"datum": 0}}}
],
"resolve": {"scale": {"y": "independent", "stroke": "independent"}, "axis": {"x": "independent", "y": "independent"}, "legend": {"stroke": "independent"}}
}
